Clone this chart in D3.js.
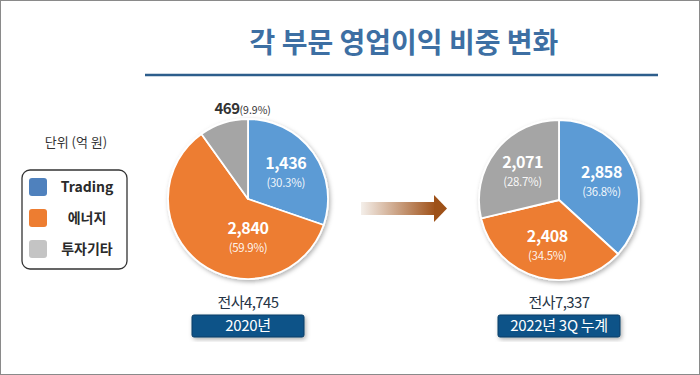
<!DOCTYPE html>
<html>
<head>
<meta charset="utf-8">
<script src="https://cdn.jsdelivr.net/npm/d3@7"></script>
<style>
  html, body { margin: 0; padding: 0; background: #fff; }
  svg { display: block; font-family: "Noto Sans CJK KR", "Noto Sans", sans-serif; }
</style>
</head>
<body>
<div id="chart"></div>
<script>
// 각 부문 영업이익 (억 원)
const segments = ["Trading", "에너지", "투자기타"];
const values2020 = [1436, 2840, 469];
const share2020 = [30.3, 59.9, 9.9];
const values2022 = [2858, 2408, 2071];
const share2022 = [36.8, 34.5, 28.7];
const periods = ["2020년", "2022년 3Q 누계"];
const totals = [4745, 7337];

const width = 700, height = 375;
const pieColors = ["#5b9bd5", "#ed7d31", "#a5a5a5"];
const legendColors = ["#4f81bd", "#ed7d31", "#c4c4c4"];

const svg = d3.select("#chart").append("svg").attr("width", width).attr("height", height);
const defs = svg.append("defs");

defs.append("filter").attr("id", "shadow").attr("x", "-20%").attr("y", "-20%").attr("width", "140%").attr("height", "140%")
  .append("feDropShadow").attr("dx", 1.5).attr("dy", 2).attr("stdDeviation", 2)
  .attr("flood-color", "#000").attr("flood-opacity", 0.3);

const grad = defs.append("linearGradient").attr("id", "arrowGrad");
grad.append("stop").attr("offset", "0%").attr("stop-color", "#f4efea");
grad.append("stop").attr("offset", "100%").attr("stop-color", "#a0521a");

// frame
svg.append("rect").attr("x", 0.5).attr("y", 0.5).attr("width", width - 1).attr("height", height - 1)
  .attr("fill", "#fff").attr("stroke", "#8a8a8a");

// title
svg.append("text").attr("x", 404).attr("y", 53).attr("text-anchor", "middle")
  .attr("font-size", 28).attr("font-weight", 700).attr("fill", "#3d6fa3")
  .text("각 부문 영업이익 비중 변화");
svg.append("line").attr("x1", 145).attr("x2", 658).attr("y1", 75).attr("y2", 75)
  .attr("stroke", "#2d5e8c").attr("stroke-width", 2.5);

// unit + legend
svg.append("text").attr("x", 76).attr("y", 147).attr("text-anchor", "middle")
  .attr("font-size", 13).attr("fill", "#333").text("단위 (억 원)");

svg.append("rect").attr("x", 22).attr("y", 170).attr("width", 105).attr("height", 99).attr("rx", 8)
  .attr("fill", "#fff").attr("stroke", "#333").attr("stroke-width", 1.3);

const legendY = d3.scalePoint().domain(segments).range([187, 249]);
const legend = svg.append("g").selectAll("g").data(segments).join("g")
  .attr("transform", (d) => `translate(0,${legendY(d)})`);
legend.append("rect").attr("x", 29).attr("y", -9).attr("width", 18).attr("height", 18).attr("rx", 3)
  .attr("fill", (d, i) => legendColors[i]);
legend.append("text").attr("x", 87).attr("y", 5).attr("text-anchor", "middle")
  .attr("font-size", 14).attr("font-weight", 700).attr("fill", "#2a2a2a").text((d) => d);

// arrow
const arrow = svg.append("g");
arrow.append("rect").attr("x", 361).attr("y", 202).attr("width", 74).attr("height", 13).attr("fill", "url(#arrowGrad)");
arrow.append("path").attr("d", "M434,195 L447,208.5 L434,222 Z").attr("fill", "#9e5118");

// pies
const R = 80;
const pie = d3.pie().sort(null).value((d) => d.share);
const arc = d3.arc().innerRadius(0).outerRadius(R);
const fmt = d3.format(",");

const charts = [
  { cx: 248, cy: 199, values: values2020, shares: share2020, total: totals[0], period: periods[0], boxW: 112 },
  { cx: 559, cy: 200, values: values2022, shares: share2022, total: totals[1], period: periods[1], boxW: 122 },
];

charts.forEach((c) => {
  const rows = segments.map((s, i) => ({ name: s, value: c.values[i], share: c.shares[i], color: pieColors[i] }));
  const arcs = pie(rows);
  const g = svg.append("g").attr("transform", `translate(${c.cx},${c.cy})`);

  g.append("g").attr("filter", "url(#shadow)").selectAll("path").data(arcs).join("path")
    .attr("d", arc).attr("fill", (d) => d.data.color)
    .attr("stroke", "#fff").attr("stroke-width", 1.8).attr("stroke-linejoin", "round");

  arcs.forEach((a) => {
    const mid = (a.startAngle + a.endAngle) / 2;
    const span = a.endAngle - a.startAngle;
    if (span < 0.15 * 2 * Math.PI) {
      // small slice: label outside
      const rr = R + 10;
      const t = g.append("text").attr("x", rr * Math.sin(mid) - 6).attr("y", -rr * Math.cos(mid) + 1)
        .attr("fill", "#333");
      t.append("tspan").attr("font-size", 15).attr("font-weight", 700).attr("letter-spacing", -0.5).text(fmt(a.data.value));
      t.append("tspan").attr("font-size", 10.5).text(`(${a.data.share}%)`);
      return;
    }
    let ang = mid, rr = R * 0.58;
    if (span > Math.PI && a.startAngle < Math.PI && a.endAngle > Math.PI) { ang = Math.PI; rr = R * 0.47; }
    const x = rr * Math.sin(ang), y = -rr * Math.cos(ang);
    g.append("text").attr("x", x).attr("y", y - 3).attr("text-anchor", "middle")
      .attr("font-size", 16).attr("font-weight", 700).attr("fill", "#fff").attr("letter-spacing", -0.4)
      .text(fmt(a.data.value));
    g.append("text").attr("x", x).attr("y", y + 15).attr("text-anchor", "middle")
      .attr("font-size", 11.5).attr("fill", "#fff").attr("fill-opacity", 0.92).attr("letter-spacing", -0.3)
      .text(`(${a.data.share}%)`);
  });

  svg.append("text").attr("x", c.cx).attr("y", 308).attr("text-anchor", "middle")
    .attr("font-size", 15).attr("fill", "#253445").attr("letter-spacing", -0.6)
    .text(`전사${fmt(c.total)}`);
  svg.append("rect").attr("x", c.cx - c.boxW / 2).attr("y", 315).attr("width", c.boxW).attr("height", 22).attr("rx", 2)
    .attr("fill", "#0c5288").attr("stroke", "#083d66").attr("filter", "url(#shadow)");
  svg.append("text").attr("x", c.cx).attr("y", 331).attr("text-anchor", "middle")
    .attr("font-size", 15).attr("fill", "#fff").attr("letter-spacing", -0.3).text(c.period);
});
</script>
</body>
</html>
